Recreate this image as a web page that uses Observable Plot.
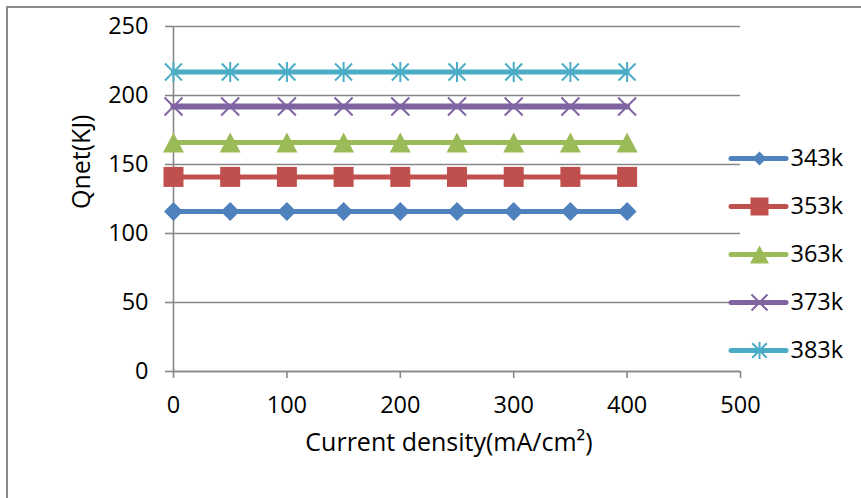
<!DOCTYPE html>
<html>
<head>
<meta charset="utf-8">
<script src="https://cdn.jsdelivr.net/npm/d3@7"></script>
<script src="https://cdn.jsdelivr.net/npm/@observablehq/plot@0.6"></script>
<style>
  html, body { margin: 0; padding: 0; background: #fff; }
  #wrap { position: relative; width: 861px; height: 498px; overflow: hidden; background: #fff; }
  #border { position: absolute; left: 6px; top: 6px; width: 900px; height: 600px; border: 2px solid #8a8a8a; box-sizing: border-box; }
  #main { position: absolute; left: 0; top: 0; }
  #legend { position: absolute; left: 731px; top: 134px; }
</style>
</head>
<body>
<div id="wrap">
  <div id="border"></div>
  <div id="main"></div>
  <div id="legend"></div>
</div>
<script>
// Current density (mA/cm²) on the x axis
const densities = [0, 50, 100, 150, 200, 250, 300, 350, 400];

// Net heat Qnet (KJ) at each temperature
const seriesNames = ["343k", "353k", "363k", "373k", "383k"];
const q343 = [116, 116, 116, 116, 116, 116, 116, 116, 116];
const q353 = [141, 141, 141, 141, 141, 141, 141, 141, 141];
const q363 = [166, 166, 166, 166, 166, 166, 166, 166, 166];
const q373 = [192, 192, 192, 192, 192, 192, 192, 192, 192];
const q383 = [217, 217, 217, 217, 217, 217, 217, 217, 217];
const seriesValues = [q343, q353, q363, q373, q383];

// Axis ticks
const xTicks = [0, 100, 200, 300, 400, 500];
const yTicks = [0, 50, 100, 150, 200, 250];

const rows = seriesNames.flatMap((name, i) =>
  densities.map((x, j) => ({ name, x, q: seriesValues[i][j] }))
);

// Marker shapes; the radius r passed to Plot becomes the half-extent h
const half = (s) => Math.sqrt(s / Math.PI);
const diamond = { draw(c, s) { const h = half(s); c.moveTo(0, -h); c.lineTo(h, 0); c.lineTo(0, h); c.lineTo(-h, 0); c.closePath(); } };
const square = { draw(c, s) { const h = half(s); c.rect(-h, -h, 2 * h, 2 * h); } };
const triangle = { draw(c, s) { const h = half(s); c.moveTo(0, -h); c.lineTo(h * 1.05, h); c.lineTo(-h * 1.05, h); c.closePath(); } };
const cross = { draw(c, s) { const h = half(s); c.moveTo(-h, -h); c.lineTo(h, h); c.moveTo(-h, h); c.lineTo(h, -h); } };
const star = { draw(c, s) { const h = half(s), d = h * 0.85; c.moveTo(-d, -d); c.lineTo(d, d); c.moveTo(-d, d); c.lineTo(d, -d); c.moveTo(0, -h); c.lineTo(0, h); } };

const looks = [
  { color: "#4F81BD", symbol: diamond, r: 9.5, lr: 7, filled: true, width: 5 },
  { color: "#C0504D", symbol: square, r: 10, lr: 9, filled: true, width: 5 },
  { color: "#9BBB59", symbol: triangle, r: 10, lr: 9, filled: true, width: 5 },
  { color: "#8064A2", symbol: cross, r: 9, lr: 8, filled: false, width: 6 },
  { color: "#4BACC6", symbol: star, r: 10, lr: 8.5, filled: false, width: 5 }
];

const gray = "#878787";
const font = "'Open Sans', 'Liberation Sans', sans-serif";
const fs = 23.5;
const titleFs = 25;

const seriesMarks = seriesNames.flatMap((name, i) => {
  const L = looks[i];
  const data = rows.filter((d) => d.name === name);
  return [
    Plot.line(data, { x: "x", y: "q", stroke: L.color, strokeWidth: L.width }),
    Plot.dot(data, {
      x: "x", y: "q", symbol: L.symbol, r: L.r,
      fill: L.filled ? L.color : "none",
      stroke: L.filled ? "none" : L.color,
      strokeWidth: L.filled ? 0 : 2
    })
  ];
});

const chart = Plot.plot({
  width: 861,
  height: 498,
  marginLeft: 173,
  marginRight: 121,
  marginTop: 26,
  marginBottom: 127,
  style: { fontFamily: font, fontSize: fs + "px", background: "transparent", color: "#000" },
  x: { domain: [0, 500] },
  y: { domain: [0, 250] },
  marks: [
    Plot.gridY({ ticks: yTicks, stroke: gray, strokeOpacity: 1, strokeWidth: 1.6 }),
    Plot.axisY({ ticks: yTicks, tickSize: 8, tickPadding: 17, stroke: gray, strokeWidth: 1.6, fontSize: fs, label: null }),
    Plot.axisX({ ticks: xTicks, tickSize: 7, tickPadding: 18, stroke: gray, strokeWidth: 1.6, fontSize: fs, label: null }),
    Plot.ruleX([0], { stroke: gray, strokeWidth: 1.6 }),
    Plot.ruleY([0], { stroke: gray, strokeWidth: 1.6 }),
    ...seriesMarks,
    Plot.text(["Current density(mA/cm²)"], { frameAnchor: "bottom", dx: -8, dy: 71, fontSize: titleFs, lineAnchor: "middle", fill: "#000" }),
    Plot.text(["Qnet(KJ)"], { frameAnchor: "left", rotate: -90, dx: -92, dy: 10, fontSize: titleFs, lineAnchor: "middle", fill: "#000" })
  ]
});
document.getElementById("main").appendChild(chart);

// Legend: one swatch line, marker and label per temperature
const legendMarks = seriesNames.flatMap((name, i) => {
  const L = looks[i];
  return [
    Plot.ruleY([name], { y: (d) => d, x1: 0, x2: 55, stroke: L.color, strokeWidth: 5, strokeLinecap: "round" }),
    Plot.dot([name], {
      y: (d) => d, x: 28, symbol: L.symbol, r: L.lr,
      fill: L.filled ? L.color : "none",
      stroke: L.filled ? "none" : L.color,
      strokeWidth: L.filled ? 0 : 2
    }),
    Plot.text([name], { y: (d) => d, x: 59, text: (d) => d, textAnchor: "start", lineAnchor: "middle", fontSize: fs, fill: "#000" })
  ];
});

const legend = Plot.plot({
  width: 130,
  height: 240,
  margin: 0,
  style: { fontFamily: font, fontSize: fs + "px", background: "transparent", color: "#000", overflow: "visible" },
  x: { type: "identity", axis: null },
  y: { type: "point", domain: seriesNames, range: [24, 216], padding: 0, axis: null },
  marks: legendMarks
});
document.getElementById("legend").appendChild(legend);
</script>
</body>
</html>
